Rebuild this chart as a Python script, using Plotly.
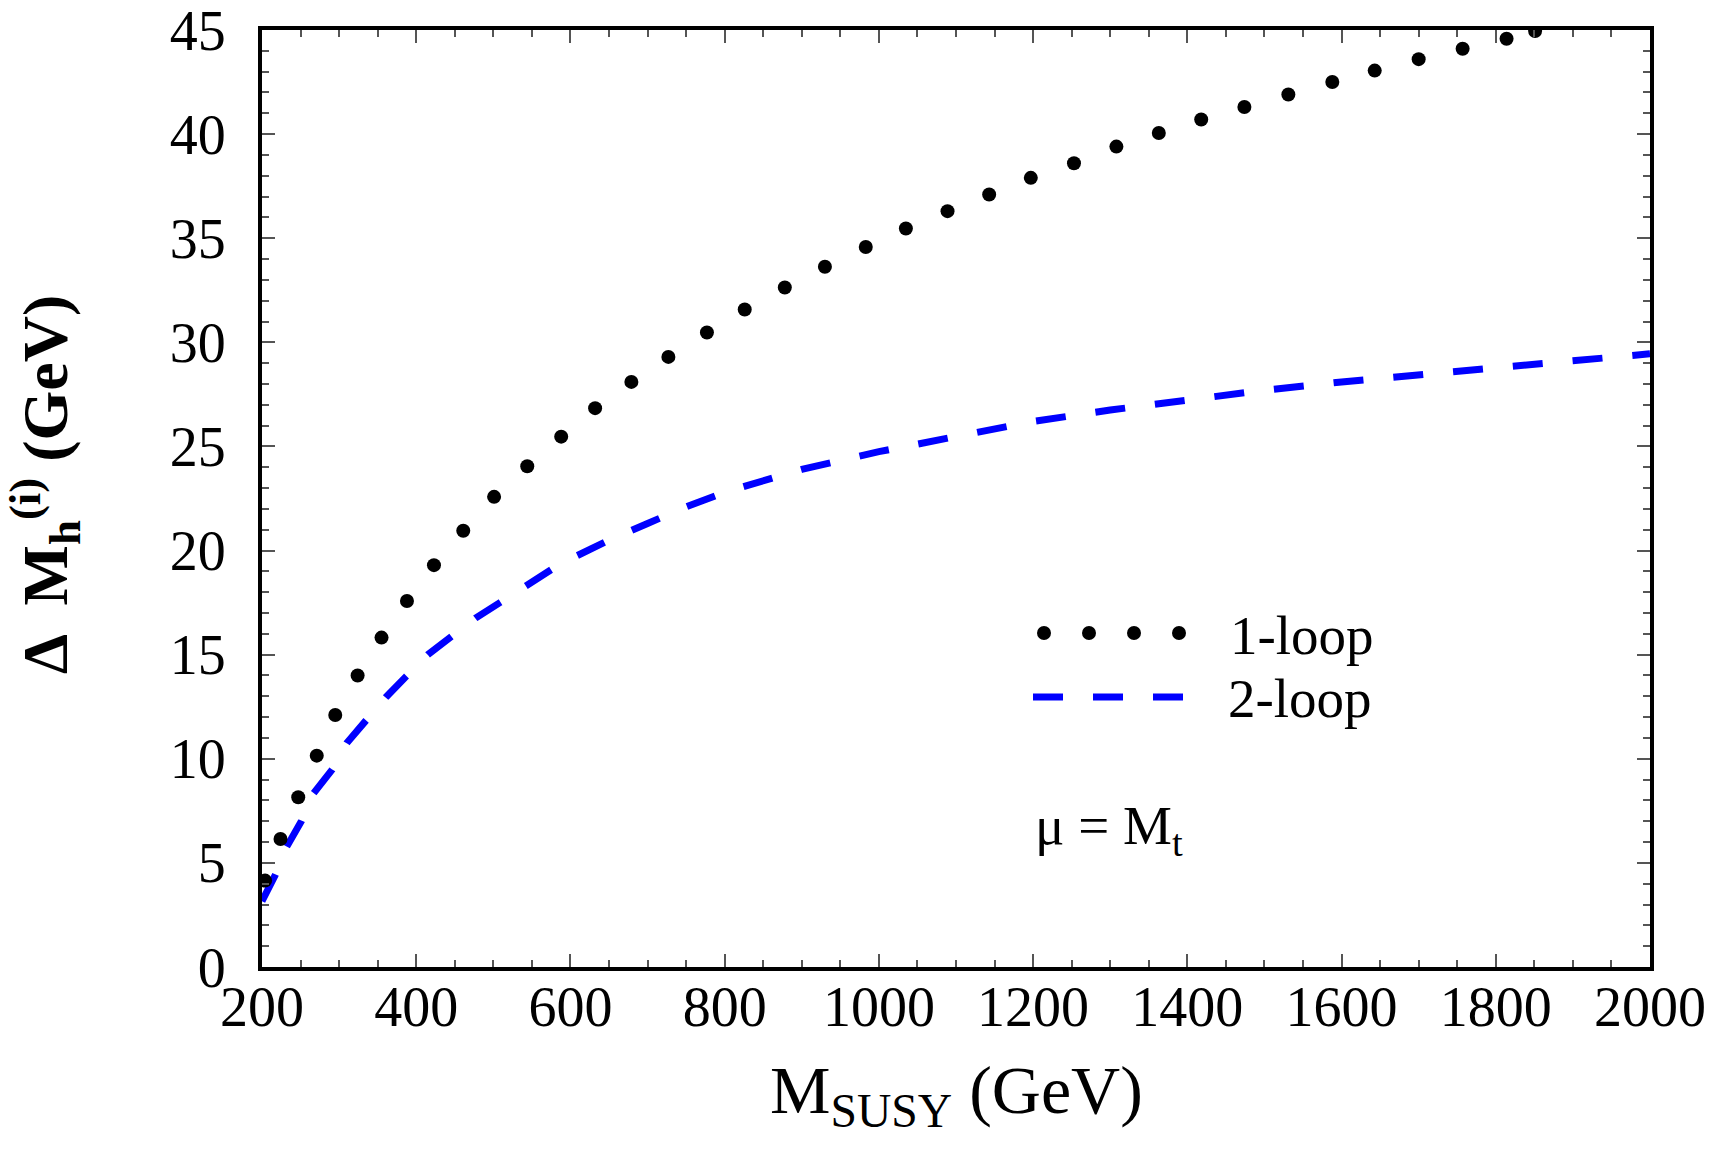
import plotly.graph_objects as go

# ---------------- data ----------------
mass_1loop = [204, 224, 247, 271, 295, 324, 355, 388, 423, 461, 501, 544, 588, 632,
              679, 727, 777, 826, 878, 930, 983, 1035, 1089, 1143, 1197, 1253, 1308,
              1363, 1418, 1474, 1531, 1588, 1643, 1700, 1757, 1814, 1851]
dm_1loop = [4.15, 6.15, 8.15, 10.15, 12.1, 14.0, 15.82, 17.58, 19.3, 20.95, 22.58,
            24.05, 25.47, 26.84, 28.1, 29.3, 30.47, 31.58, 32.63, 33.63, 34.58, 35.47,
            36.3, 37.1, 37.9, 38.6, 39.4, 40.05, 40.7, 41.3, 41.9, 42.5, 43.05, 43.6,
            44.1, 44.58, 44.95]

mass_2loop = [200, 217, 232, 251, 266, 291, 310, 335, 361, 387, 415, 446, 477, 509,
              543, 575, 600, 650, 700, 750, 800, 900, 1000, 1100, 1200, 1300, 1400,
              1500, 1600, 1700, 1800, 1900, 2000]
dm_2loop = [3.16, 4.4, 5.77, 7.0, 8.3, 9.48, 10.76, 11.85, 12.97, 13.96, 15.0, 15.88,
            16.76, 17.51, 18.36, 19.08, 19.6, 20.5, 21.3, 22.1, 22.8, 23.9, 24.75,
            25.5, 26.2, 26.75, 27.25, 27.7, 28.1, 28.45, 28.8, 29.15, 29.45]

series_names = ["1-loop", "2-loop"]
x_ticks = [200, 400, 600, 800, 1000, 1200, 1400, 1600, 1800, 2000]
y_ticks = [0, 5, 10, 15, 20, 25, 30, 35, 40, 45]
x_title = "M<sub>SUSY</sub> (GeV)"
y_title = "<b>Δ  M<sub>h</sub><sup>(i)</sup> (GeV)</b>"
note_text = "μ = M<sub>t</sub>"

FONT = "Liberation Serif, Times New Roman, serif"
BLUE = "#0000ff"

fig = go.Figure()

fig.add_trace(go.Scatter(
    x=mass_2loop, y=dm_2loop, mode="lines", name=series_names[1],
    line=dict(color=BLUE, width=7, dash="30px,30px"), showlegend=False))

fig.add_trace(go.Scatter(
    x=mass_1loop, y=dm_1loop, mode="markers", name=series_names[0],
    marker=dict(color="black", size=14, line=dict(width=0)), showlegend=False))

# plot area in pixels
L, R, T, B = 262, 1650, 30, 967
W, H = 1720, 1149
pw, ph = R - L, B - T


def px(X):
    return (X - L) / pw


def py(Y):
    return (B - Y) / ph


shapes = []
# legend sample: dots
for cx in [1044, 1089, 1134, 1179]:
    shapes.append(dict(type="circle", xref="paper", yref="paper",
                       xsizemode="pixel", ysizemode="pixel",
                       xanchor=px(cx), yanchor=py(633),
                       x0=-7, x1=7, y0=-7, y1=7,
                       fillcolor="black", line=dict(width=0)))
# legend sample: dashed line
shapes.append(dict(type="line", xref="paper", yref="paper",
                   x0=px(1033), x1=px(1183), y0=py(697), y1=py(697),
                   line=dict(color=BLUE, width=7, dash="30px,30px")))

annotations = [
    dict(text=series_names[0], x=px(1228), y=py(636), xref="paper", yref="paper",
         xanchor="left", yanchor="middle", showarrow=False,
         font=dict(family=FONT, size=55, color="black")),
    dict(text=series_names[1], x=px(1226), y=py(698), xref="paper", yref="paper",
         xanchor="left", yanchor="middle", showarrow=False,
         font=dict(family=FONT, size=55, color="black")),
    dict(text=note_text, x=px(1033), y=py(830), xref="paper", yref="paper",
         xanchor="left", yanchor="middle", showarrow=False,
         font=dict(family=FONT, size=55, color="black")),
    # y-axis title
    dict(text=y_title, x=px(45), y=py(485), xref="paper", yref="paper",
         xanchor="center", yanchor="middle", showarrow=False, textangle=-90,
         font=dict(family=FONT, size=64, color="black")),
    # x-axis title
    dict(text=x_title, x=px(956), y=py(1094), xref="paper", yref="paper",
         xanchor="center", yanchor="middle", showarrow=False,
         font=dict(family=FONT, size=68, color="black")),
]

axis_common = dict(
    showgrid=False, zeroline=False, showline=True, linecolor="black", linewidth=4,
    mirror="allticks", ticks="inside", ticklen=13, tickwidth=2, tickcolor="#555555",
    tickfont=dict(family=FONT, size=56, color="black"), ticklabeloverflow="allow",
)

fig.update_layout(
    width=W, height=H,
    margin=dict(l=L, r=W - R, t=T, b=H - B, autoexpand=False),
    paper_bgcolor="white", plot_bgcolor="white",
    shapes=shapes, annotations=annotations,
    xaxis=dict(range=[200, 2000], tickmode="array", tickvals=x_ticks,
               ticktext=[str(v) for v in x_ticks],
               minor=dict(dtick=50, tick0=200, ticks="inside", ticklen=7,
                          tickwidth=2, tickcolor="#555555"),
               ticklabelstandoff=-12,
               **axis_common),
    yaxis=dict(range=[0, 45], tickmode="array", tickvals=y_ticks,
               ticktext=[str(v) for v in y_ticks],
               minor=dict(dtick=1, tick0=0, ticks="inside", ticklen=7,
                          tickwidth=2, tickcolor="#555555"),
               ticklabelstandoff=21,
               **axis_common),
)

fig.write_html("out.html")
